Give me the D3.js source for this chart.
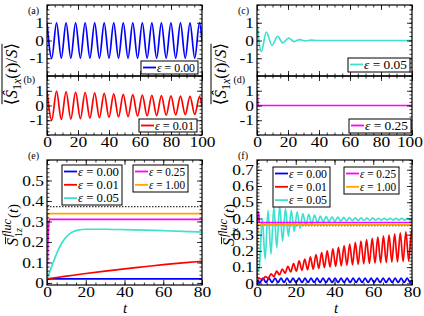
<!DOCTYPE html>
<html>
<head>
<meta charset="utf-8">
<style>
html, body {
  margin: 0px;
  padding: 0px;
  background: #fff;
}
svg {
  display: block;
}
svg text {
  font-family: "Liberation Serif", "Times New Roman", "DejaVu Serif", serif;
}
</style>
</head>
<body>
<div id="chart"></div>
<script src="https://cdn.jsdelivr.net/npm/d3@7/dist/d3.min.js"></script>
<script>
// ---- values ----
var epsLabels = ["0.00", "0.01", "0.05", "0.25", "1.00"];
var epsColors = ["#0000ff", "#ff0000", "#40e0d0", "#ff00ff", "#ffa500"];

// (a) <S1x(t)/S>, eps = 0.00  (turning points)
var sxEps000 = [[0,1],[3.08,-1],[6.15,1],[9.23,-1],[12.3,1],[15.38,-1],[18.45,1],[21.53,-1],[24.6,1],[27.68,-1],
  [30.75,1],[33.83,-1],[36.9,1],[39.98,-1],[43.05,1],[46.13,-1],[49.2,1],[52.28,-1],[55.35,1],[58.43,-1],
  [61.5,1],[64.58,-1],[67.65,1],[70.73,-1],[73.8,1],[76.88,-1],[79.95,1],[83.03,-1],[86.1,1],[89.18,-1],
  [92.25,1],[95.33,-1],[98.4,1],[100,-0.06]];
// (b) eps = 0.01
var sxEps001 = [[0,1],[3.08,-0.98],[6.15,0.97],[9.23,-0.95],[12.3,0.94],[15.38,-0.92],[18.45,0.91],[21.53,-0.89],[24.6,0.88],[27.68,-0.86],
  [30.75,0.85],[33.83,-0.83],[36.9,0.82],[39.98,-0.8],[43.05,0.79],[46.13,-0.77],[49.2,0.76],[52.28,-0.75],[55.35,0.74],[58.43,-0.72],
  [61.5,0.71],[64.58,-0.7],[67.65,0.69],[70.73,-0.68],[73.8,0.67],[76.88,-0.66],[79.95,0.65],[83.03,-0.64],[86.1,0.63],[89.18,-0.62],
  [92.25,0.62],[95.33,-0.61],[98.4,0.6],[100,-0.04]];
// (c) eps = 0.05
var sxEps005 = [[0,1],[2.8,-0.62],[6,0.48],[9.7,-0.27],[13.3,0.24],[16.6,-0.13],[20.4,0.13],[24,-0.06],[27.5,0.05],
  [31,-0.02],[35,0.02],[39,0],[100,0]];
// (d) eps = 0.25
var sxEps025 = [[0,1],[0.8,0],[100,0]];

// (e) fluctuation S1z
var fzEps000 = [[0,0.02],[80,0.02]];
var fzEps001 = [[0,0.02],[10,0.033],[20,0.046],[30,0.058],[40,0.069],[50,0.079],[60,0.089],[70,0.098],[80,0.106]];
var fzEps005 = [[0,0.02],[2,0.07],[4,0.12],[6,0.165],[8,0.2],[10,0.225],[12,0.242],[14,0.252],[16,0.258],[20,0.262],
  [30,0.262],[40,0.26],[50,0.258],[60,0.255],[70,0.252],[80,0.248]];
var fzEps025 = [[0,0.02],[0.9,0.29],[1.3,0.31],[80,0.31]];
var fzEps100 = [[0,0.02],[0.3,0.338],[80,0.338]];
var fzRef = 0.372;

// (f) fluctuation S1x
var fxEps000 = [[0,0.02],[1.55,0.006],[3.1,0.032],[4.65,0.006],[6.2,0.032],[7.75,0.006],[9.3,0.032],[10.85,0.006],
  [12.4,0.032],[13.95,0.006],[15.5,0.032],[17.05,0.006],[18.6,0.032],[20.15,0.006],[21.7,0.032],[23.25,0.006],
  [24.8,0.032],[26.35,0.006],[27.9,0.032],[29.45,0.006],[31,0.032],[32.55,0.006],[34.1,0.032],[35.65,0.006],
  [37.2,0.032],[38.75,0.006],[40.3,0.032],[41.85,0.006],[43.4,0.032],[44.95,0.006],[46.5,0.032],[48.05,0.006],
  [49.6,0.032],[51.15,0.006],[52.7,0.032],[54.25,0.006],[55.8,0.032],[57.35,0.006],[58.9,0.032],[60.45,0.006],
  [62,0.032],[63.55,0.006],[65.1,0.032],[66.65,0.006],[68.2,0.032],[69.75,0.006],[71.3,0.032],[72.85,0.006],
  [74.4,0.032],[75.95,0.006],[77.5,0.032],[79.05,0.006],[80,0.02]];
var fxEps001 = [[0,0.02],[1.45,0.03],[2.9,0.022],[4.35,0.042],[5.8,0.032],[7.25,0.058],[8.7,0.042],[10.15,0.075],
  [11.6,0.053],[13.05,0.088],[14.5,0.062],[15.95,0.105],[17.4,0.07],[18.85,0.122],[20.3,0.075],[21.75,0.138],
  [23.2,0.08],[24.65,0.15],[26.1,0.084],[27.55,0.163],[29,0.088],[30.45,0.177],[31.9,0.092],[33.35,0.19],
  [34.8,0.097],[36.25,0.2],[37.7,0.101],[39.15,0.212],[40.6,0.105],[42.05,0.222],[43.5,0.108],[44.95,0.232],
  [46.4,0.111],[47.85,0.242],[49.3,0.114],[50.75,0.252],[52.2,0.117],[53.65,0.261],[55.1,0.12],[56.55,0.27],
  [58,0.123],[59.45,0.278],[60.9,0.125],[62.35,0.285],[63.8,0.127],[65.25,0.292],[66.7,0.128],[68.15,0.299],
  [69.6,0.13],[71.05,0.305],[72.5,0.132],[73.95,0.311],[75.4,0.134],[76.85,0.318],[78.3,0.137],[79.75,0.325],[80,0.32]];
var fxEps005 = [[0,0.07],[1.2,0.1],[2.7,0.4],[4.2,0.15],[5.7,0.45],[7.2,0.18],[8.7,0.47],[10.2,0.22],[11.7,0.475],
  [13.2,0.26],[14.7,0.46],[16.2,0.29],[17.7,0.45],[19.2,0.32],[20.7,0.44],[22.2,0.34],[23.7,0.43],[25.2,0.355],
  [26.7,0.425],[28.2,0.365],[29.7,0.42],[31.2,0.372],[32.7,0.415],[34.2,0.377],[35.7,0.412],[37.2,0.38],[38.7,0.41],
  [40.2,0.382],[41.7,0.408],[43.2,0.384],[44.7,0.406],[46.2,0.385],[47.7,0.405],[49.2,0.386],[50.7,0.404],
  [52.2,0.387],[53.7,0.403],[55.2,0.388],[56.7,0.402],[58.2,0.388],[59.7,0.402],[61.2,0.389],[62.7,0.401],
  [64.2,0.389],[65.7,0.401],[67.2,0.39],[68.7,0.401],[70.2,0.39],[71.7,0.4],[73.2,0.39],[74.7,0.4],[76.2,0.39],
  [77.7,0.4],[79.2,0.39],[80,0.393]];
var fxEps025 = [[0,0.02],[0.3,0.44],[0.8,0.44],[1.2,0.375],[80,0.375]];
var fxEps100 = [[0,0.0],[0.3,0.36],[80,0.36]];
var fxRef = 0.355;

var yTicksSx = [-1, 0, 1];
var xTicksTop = [0, 20, 40, 60, 80, 100];
var xTicksBottom = [0, 20, 40, 60, 80];
var yTicksFz = [0, 0.1, 0.2, 0.3, 0.4, 0.5];
var yTicksFx = [0, 0.1, 0.2, 0.3, 0.4, 0.5, 0.6, 0.7];

// ---- drawing ----
var W = 424, H = 316;
var SERIF = "Liberation Serif, Times New Roman, DejaVu Serif, serif";
var svg = d3.select("#chart").append("svg")
  .attr("width", W).attr("height", H)
  .attr("font-family", SERIF);

var clipId = 0;

function panel(box, xDom, yDom, opt) {
  var x = d3.scaleLinear().domain(xDom).range([box.x0, box.x1]);
  var y = d3.scaleLinear().domain(yDom).range([box.y1, box.y0]);
  var g = svg.append("g");

  var id = "clip" + (clipId++);
  g.append("clipPath").attr("id", id).append("rect")
    .attr("x", box.x0).attr("y", box.y0)
    .attr("width", box.x1 - box.x0).attr("height", box.y1 - box.y0);
  var plot = g.append("g").attr("clip-path", "url(#" + id + ")");

  var line = d3.line()
    .x(function (d) { return x(d[0]); })
    .y(function (d) { return y(d[1]); })
    .curve(d3.curveMonotoneX);

  if (opt.ref != null) {
    plot.append("line")
      .attr("x1", box.x0).attr("x2", box.x1)
      .attr("y1", y(opt.ref)).attr("y2", y(opt.ref))
      .attr("stroke", "#000").attr("stroke-width", 1)
      .attr("stroke-dasharray", "1.5,1.5");
  }
  opt.series.forEach(function (s) {
    plot.append("path")
      .datum(s.data)
      .attr("fill", "none")
      .attr("stroke", epsColors[s.k])
      .attr("stroke-width", 1.7)
      .attr("stroke-linejoin", "round")
      .attr("d", line);
  });

  // frame ticks on all four sides, pointing inward
  function ax(fn, scale, vals, size, fmt) {
    return fn(scale).tickValues(vals).tickSizeInner(-size).tickSizeOuter(0)
      .tickPadding(1.5).tickFormat(fmt);
  }
  var none = function () { return ""; };
  var sides = [
    [d3.axisBottom, x, "translate(0," + box.y1 + ")", opt.xFmt],
    [d3.axisTop, x, "translate(0," + box.y0 + ")", null],
    [d3.axisLeft, y, "translate(" + box.x0 + ",0)", opt.yFmt],
    [d3.axisRight, y, "translate(" + box.x1 + ",0)", null]
  ];
  sides.forEach(function (s, i) {
    var isX = i < 2;
    var major = isX ? opt.xTicks : opt.yTicks;
    var minor = isX ? opt.xMinor : opt.yMinor;
    var gm = g.append("g").attr("transform", s[2])
      .call(ax(s[0], s[1], minor, 2.5, none));
    gm.select(".domain").remove();
    gm.selectAll("text").remove();
    var gM = g.append("g").attr("transform", s[2])
      .call(ax(s[0], s[1], major, 5, s[3] || none));
    gM.select(".domain").remove();
    if (!s[3]) gM.selectAll("text").remove();
    gM.attr("font-family", SERIF).attr("font-size", 14.5);
    // the reference's tick numbers are drawn a little wide
    gM.selectAll("text").attr("fill", "#000")
      .attr("transform", "scale(1.2,1)");
    if (i === 2) gM.selectAll("text").attr("x", -2.5);
    if (i === 0) {
      // keep the last number inside the window
      gM.selectAll("text").each(function () {
        var b = this.getBBox();
        var tx = +this.parentNode.getAttribute("transform").match(/translate\(([-\d.]+)/)[1];
        var right = tx + 1.2 * (b.x + b.width);
        if (right > W - 1) d3.select(this).attr("x", (W - 1 - right) / 1.2);
      });
    }
  });
  g.selectAll(".tick line").attr("stroke", "#000").attr("stroke-width", 0.8);

  g.append("rect")
    .attr("x", box.x0).attr("y", box.y0)
    .attr("width", box.x1 - box.x0).attr("height", box.y1 - box.y0)
    .attr("fill", "none").attr("stroke", "#000").attr("stroke-width", 1.2);

  // panel tag
  svg.append("text")
    .attr("x", box.x0 - opt.tagDx).attr("y", box.y0 + opt.tagDy)
    .attr("font-size", 10).text(opt.tag);

  return { x: x, y: y, g: g };
}

function legend(bx, by, bw, bh, keys) {
  var g = svg.append("g");
  g.append("rect")
    .attr("x", bx).attr("y", by).attr("width", bw).attr("height", bh)
    .attr("fill", "#fff").attr("stroke", "#000").attr("stroke-width", 1);
  keys.forEach(function (k, i) {
    var cy = by + 6.5 + i * 13.3;
    g.append("line")
      .attr("x1", bx + 2).attr("x2", bx + 15)
      .attr("y1", cy).attr("y2", cy)
      .attr("stroke", epsColors[k]).attr("stroke-width", 1.8);
    var t = g.append("text")
      .attr("x", bx + 16).attr("y", cy + 4)
      .attr("font-size", 12)
      .attr("textLength", bw - 19).attr("lengthAdjust", "spacingAndGlyphs");
    t.append("tspan").attr("font-style", "italic").text("\u03B5");
    t.append("tspan").text(" = " + epsLabels[k]);
  });
}

var sxFmt = function (d) { return d < 0 ? "-" + Math.abs(d) : String(d); };
var numFmt = function (d) { return d === 0 ? "0" : d.toFixed(1); };
var intFmt = function (d) { return String(d); };

var sxBase = {
  yTicks: yTicksSx, yMinor: d3.range(-2, 2.01, 0.25),
  xTicks: xTicksTop, xMinor: d3.range(0, 100.1, 5),
  yFmt: sxFmt
};

panel({x0: 47, x1: 202, y0: 5, y1: 76}, [0, 100], [-2, 2],
  Object.assign({}, sxBase, { xFmt: null, tag: "(a)", tagDx: 19, tagDy: 9,
    series: [{k: 0, data: sxEps000}] }));
panel({x0: 47, x1: 202, y0: 76, y1: 135}, [0, 100], [-2, 2],
  Object.assign({}, sxBase, { xFmt: intFmt, tag: "(b)", tagDx: 23.5, tagDy: 7,
    series: [{k: 1, data: sxEps001}] }));
panel({x0: 257, x1: 412, y0: 5, y1: 76}, [0, 100], [-2, 2],
  Object.assign({}, sxBase, { xFmt: null, tag: "(c)", tagDx: 19, tagDy: 9,
    series: [{k: 2, data: sxEps005}] }));
panel({x0: 257, x1: 412, y0: 76, y1: 135}, [0, 100], [-2, 2],
  Object.assign({}, sxBase, { xFmt: intFmt, tag: "(d)", tagDx: 23.5, tagDy: 7,
    series: [{k: 3, data: sxEps025}] }));

legend(141, 61, 57, 13, [0]);
legend(139, 119, 58, 13, [1]);
legend(348, 58, 62, 14, [2]);
legend(349, 119, 62, 14, [3]);

panel({x0: 47, x1: 202, y0: 160, y1: 285}, [0, 80], [-0.01, 0.6], {
  xTicks: xTicksBottom, xMinor: d3.range(0, 80.1, 5),
  yTicks: yTicksFz, yMinor: d3.range(0, 0.601, 0.02),
  xFmt: intFmt, yFmt: numFmt, tag: "(e)", tagDx: 19, tagDy: -1.5, ref: fzRef,
  series: [{k: 0, data: fzEps000}, {k: 1, data: fzEps001}, {k: 2, data: fzEps005},
           {k: 3, data: fzEps025}, {k: 4, data: fzEps100}]
});
panel({x0: 257, x1: 412, y0: 160, y1: 285}, [0, 80], [-0.01, 0.76], {
  xTicks: xTicksBottom, xMinor: d3.range(0, 80.1, 5),
  yTicks: yTicksFx, yMinor: d3.range(0, 0.761, 0.02),
  xFmt: intFmt, yFmt: numFmt, tag: "(f)", tagDx: 19, tagDy: -1.5, ref: fxRef,
  series: [{k: 0, data: fxEps000}, {k: 1, data: fxEps001}, {k: 2, data: fxEps005},
           {k: 3, data: fxEps025}, {k: 4, data: fxEps100}]
});

legend(62, 165, 60, 40, [0, 1, 2]);
legend(133, 165, 55, 27, [3, 4]);
legend(273, 167, 57, 40, [0, 1, 2]);
legend(344, 167, 55, 27, [3, 4]);

// ---- axis titles ----
function sxTitle(cx, cy) {
  var g = svg.append("g").attr("transform", "translate(" + cx + "," + cy + ") rotate(-90)");
  var t = g.append("text").attr("text-anchor", "middle").attr("font-size", 17);
  t.append("tspan").text("\u27E8");
  t.append("tspan").attr("font-style", "italic").text("\u015C");
  t.append("tspan").attr("font-size", 12).attr("dy", 4).text("1");
  t.append("tspan").attr("font-size", 12).attr("font-style", "italic").text("x");
  t.append("tspan").attr("dy", -4).text("(");
  t.append("tspan").attr("font-style", "italic").text("t");
  t.append("tspan").text(")/");
  t.append("tspan").attr("font-style", "italic").text("S");
  t.append("tspan").text("\u27E9");
  var bb = t.node().getBBox();
  g.append("line")
    .attr("x1", bb.x + 1).attr("x2", bb.x + bb.width - 1)
    .attr("y1", bb.y).attr("y2", bb.y)
    .attr("stroke", "#000").attr("stroke-width", 1);
}
sxTitle(17, 74);
sxTitle(226, 74);

// S-bar with stacked super/subscript, baseline of S at screen x = bx
function flucTitle(bx, cy, comp) {
  var g = svg.append("g").attr("transform", "translate(" + bx + "," + cy + ") rotate(-90)");
  var inner = g.append("g");
  var s = inner.append("text").attr("font-size", 16).attr("font-style", "italic").text("S");
  var sw = s.node().getComputedTextLength();
  inner.append("line")
    .attr("x1", 2).attr("x2", sw + 1).attr("y1", -12.5).attr("y2", -12.5)
    .attr("stroke", "#000").attr("stroke-width", 0.9);
  var sup = inner.append("text").attr("x", sw + 1).attr("y", -7)
    .attr("font-size", 12).attr("font-style", "italic").text("fluc");
  var sub = inner.append("text").attr("x", sw + 1).attr("y", 3.5).attr("font-size", 10);
  sub.append("tspan").text("1");
  sub.append("tspan").attr("font-style", "italic").text(comp);
  var w2 = Math.max(sup.node().getComputedTextLength(), sub.node().getComputedTextLength());
  var rest = inner.append("text").attr("x", sw + w2 + 2).attr("font-size", 15);
  rest.append("tspan").text("(");
  rest.append("tspan").attr("font-style", "italic").text("t");
  rest.append("tspan").text(")");
  var bb = inner.node().getBBox();
  inner.attr("transform", "translate(" + (-bb.x - bb.width / 2) + ",0)");
}
flucTitle(18, 225, "z");
flucTitle(234, 225, "x");

[125, 336].forEach(function (cx) {
  svg.append("text").attr("x", cx).attr("y", 313.2)
    .attr("text-anchor", "middle").attr("font-size", 15)
    .attr("font-style", "italic").text("t");
});
</script>
</body>
</html>
